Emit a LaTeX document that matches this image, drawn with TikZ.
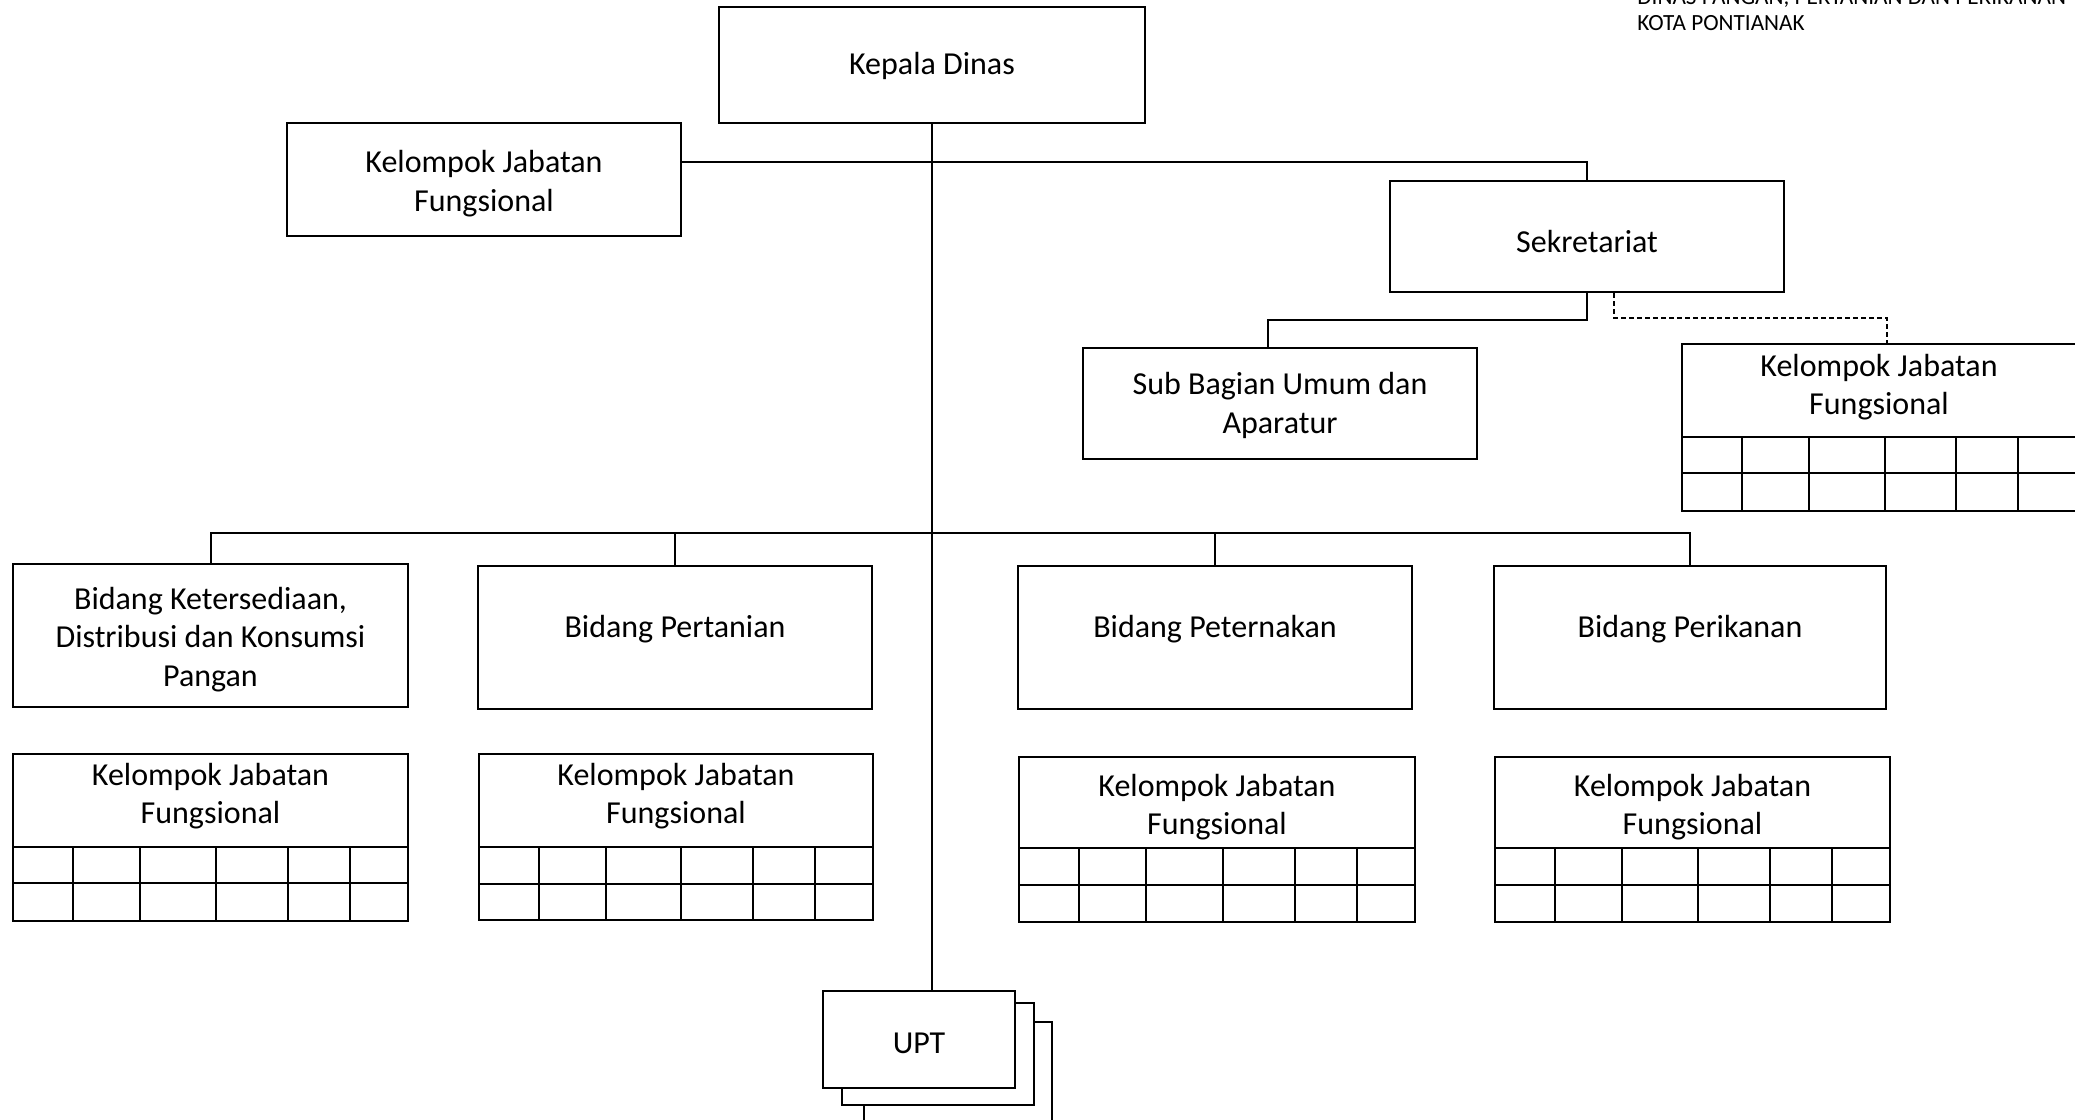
\documentclass[tikz,border=0pt]{standalone}
\usepackage{fontspec}
\setmainfont{Carlito}
\begin{document}
\begin{tikzpicture}[x=0.5pt,y=-0.5pt,
  box/.style={draw, line width=1pt, rectangle, inner sep=0pt, fill=white},
  lbl/.style={inner sep=0pt, align=center, font=\fontsize{16}{19.3}\selectfont},
  hdr/.style={inner sep=0pt, anchor=base west, font=\fontsize{11.6}{14}\selectfont},
  conn/.style={line width=1pt},
  dsh/.style={line width=1pt, dash pattern=on 2.5pt off 1.5pt}]
\useasboundingbox (0,0) rectangle (2075,1119);
\clip (0,0) rectangle (2075,1119);

% header text (partly cut off at the top, as in the original)
\node[hdr] (h1) at (1637,4) {DINAS PANGAN, PERTANIAN DAN PERIKANAN};
\node[hdr] (h2) at (1637,30) {KOTA PONTIANAK};

% main boxes
\node[box, minimum width=213pt, minimum height=58pt] (kepala) at (932,65) {};
\node[lbl, yshift=-0.7pt] (kepala-t) at (kepala) {Kepala Dinas};
\node[box, minimum width=197pt, minimum height=56.5pt] (kjf0) at (484,179.5) {};
\node[lbl, yshift=-2pt] (kjf0-t) at (kjf0) {Kelompok Jabatan\\Fungsional};
\node[box, minimum width=197pt, minimum height=55.5pt] (sekre) at (1587,236.5) {};
\node[lbl, yshift=-2.6pt] (sekre-t) at (sekre) {Sekretariat};
\node[box, minimum width=197pt, minimum height=55.5pt] (sub) at (1280,403.5) {};
\node[lbl, yshift=-1pt] (sub-t) at (sub) {Sub Bagian Umum dan\\Aparatur};

\node[box, minimum width=197.5pt, minimum height=71.5pt] (b1) at (210.5,635.5) {};
\node[lbl, yshift=-2pt] (b1-t) at (b1) {Bidang Ketersediaan,\\Distribusi dan Konsumsi\\Pangan};
\node[box, minimum width=197pt, minimum height=71.5pt] (b2) at (675,637.5) {};
\node[lbl, yshift=4pt] (b2-t) at (b2) {Bidang Pertanian};
\node[box, minimum width=197pt, minimum height=71.5pt] (b3) at (1215,637.5) {};
\node[lbl, yshift=4pt] (b3-t) at (b3) {Bidang Peternakan};
\node[box, minimum width=196pt, minimum height=71.5pt] (b4) at (1690,637.5) {};
\node[lbl, yshift=4pt] (b4-t) at (b4) {Bidang Perikanan};

% Kelompok Jabatan Fungsional tables
\foreach \n/\l/\t/\w/\h/\s/\m/\c in {
  t1/13/754/395/167/93/129/42,
  t2/479/754/394/166/93/130/42,
  t3/1019/757/396/165/91/128/50,
  t4/1495/757/395/165/91/128/50,
  tR/1682/344/394/167/93/129/43}{
  \node[box, minimum width=\w*0.5pt, minimum height=\h*0.5pt] (\n) at (\l+\w/2,\t+\h/2) {};
  \draw[conn] (\l,\t+\s) -- (\l+\w,\t+\s);
  \draw[conn] (\l,\t+\m) -- (\l+\w,\t+\m);
  \foreach \f in {60,127,203,275,337}
    \draw[conn] (\l+\f/395*\w,\t+\s) -- (\l+\f/395*\w,\t+\h);
  \node[lbl] (\n-t) at (\l+\w/2,\t+\c) {Kelompok Jabatan\\Fungsional};
}

% UPT stack
\node[box, minimum width=94pt, minimum height=51.5pt] (upt3) at (958,1073.5) {};
\node[box, minimum width=96pt, minimum height=51pt] (upt2) at (938,1054) {};
\node[box, minimum width=96pt, minimum height=48.5pt] (upt) at (919,1039.5) {};
\node[lbl, yshift=-2pt] (upt-t) at (upt) {UPT};

% connectors
\coordinate (hl) at (932,162);
\coordinate (bus) at (932,533);
\coordinate (s1) at (1268,320);
\coordinate (d1) at (1614,318);
\coordinate (d2) at (1887,318);

\draw[conn] (kepala.south) -- (kepala.south |- upt.north);
\draw[conn] (kjf0.east |- hl) -- (sekre.north |- hl) -- (sekre.north);
\draw[conn] (sekre.south) |- (s1) -- (s1 |- sub.north);
\draw[dsh] (d1 |- sekre.south) -- (d1) -- (d2) -- (d2 |- tR.north);

\draw[conn] (b1.north) -- (b1.north |- bus) -- (b4.north |- bus) -- (b4.north);
\draw[conn] (b2.north) -- (b2.north |- bus);
\draw[conn] (b3.north) -- (b3.north |- bus);
\end{tikzpicture}
\end{document}
